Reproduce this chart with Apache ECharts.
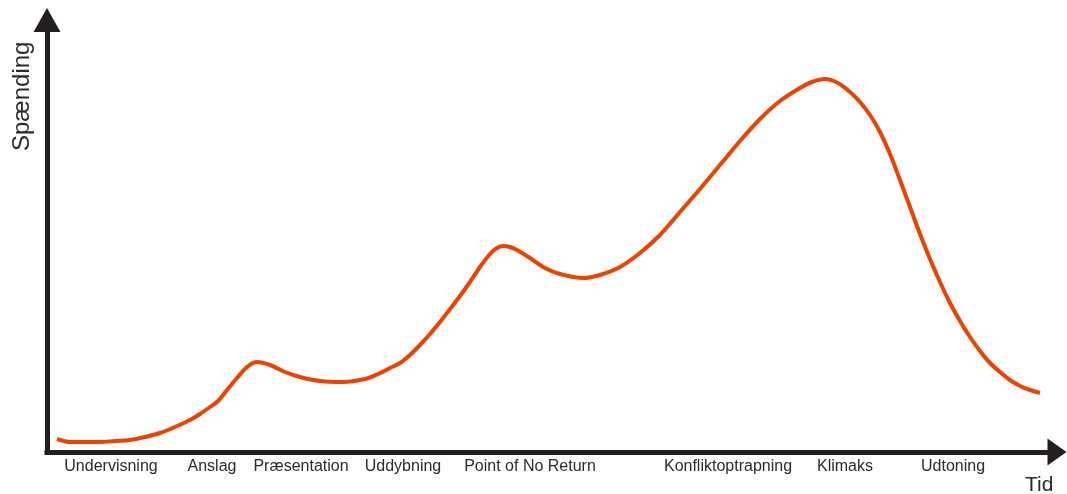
<!DOCTYPE html>
<html>
<head>
<meta charset="utf-8">
<script src="https://cdn.jsdelivr.net/npm/echarts@6/dist/echarts.min.js"></script>
<style>
html,body{margin:0;padding:0;background:#fff;}
#chart{width:1067px;height:494px;}
</style>
</head>
<body>
<div id="chart"></div>
<script>
// Phase labels along the time axis and their positions (time units)
const phaseLabels = ['Undervisning','Anslag','Præsentation','Uddybning','Point of No Return','Konfliktoptrapning','Klimaks','Udtoning'];
const phasePositions = [64,165,254,356,483,681,798,906];

// Tension curve: time values and tension values
const timeValues = [10,23,38,53,68,83,98,113,128,143,153,163,171,180,190,200,210,223,238,253,273,296,318,331,343,353,363,373,383,393,403,413,423,433,443,450,456,463,470,483,498,513,536,553,573,593,613,633,653,673,693,713,733,753,765,778,791,803,813,823,833,843,853,863,873,883,893,903,913,923,933,943,953,963,973,983,993];
const tensionValues = [13,10,10,10,11,12,15,19,25,32,38,45,51,62,74,85,90,87,80,75,71,70,73,78,84,89,97,107,118,130,143,156,170,185,198,204,206,205,202,194,184,178,174,177,185,199,217,240,263,287,311,333,351,364,370,373,369,360,350,337,320,298,272,245,218,193,170,149,131,115,101,89,80,72,66,62,59];

const xAxisName = 'Tid';
const yAxisName = 'Spænding';

const chart = echarts.init(document.getElementById('chart'), null, {renderer:'canvas'});
const axisColor = '#231f20';
const option = {
  animation: false,
  grid: {left: 47, right: 10, top: 20, bottom: 42},
  xAxis: {
    type: 'value', min: 0, max: 1010,
    axisLine: {show: true, onZero: false, symbol: ['none','triangle'], symbolSize: [27, 19],
      lineStyle: {color: axisColor, width: 5, cap: 'square'}},
    axisTick: {show: false},
    splitLine: {show: false},
    axisLabel: {
      show: true, customValues: phasePositions, margin: 7,
      fontFamily: 'Liberation Sans, Arial, sans-serif', fontSize: 16, color: '#2b2b2b',
      formatter: function (v) { const i = phasePositions.indexOf(v); return i >= 0 ? phaseLabels[i] : ''; }
    }
  },
  yAxis: {
    type: 'value', min: 0, max: 432,
    axisLine: {show: true, onZero: false, symbol: ['none','triangle'], symbolSize: [27, 24],
      lineStyle: {color: axisColor, width: 5, cap: 'square'}},
    axisTick: {show: false},
    splitLine: {show: false},
    axisLabel: {show: false}
  },
  graphic: [
    {type: 'text', left: 1025, top: 475, style: {text: xAxisName, font: '21px "Liberation Sans", Arial, sans-serif', fill: '#2b2b2b'}},
    {type: 'text', x: 10, y: 151, rotation: Math.PI / 2, style: {text: yAxisName, font: '24px "Liberation Sans", Arial, sans-serif', fill: '#2b2b2b'}}
  ],
  series: [{
    type: 'line',
    data: timeValues.map((t, i) => [t, tensionValues[i]]),
    smooth: 0.3,
    showSymbol: false,
    lineStyle: {color: '#ef4100', width: 4}
  }]
};
chart.setOption(option);
</script>
</body>
</html>
